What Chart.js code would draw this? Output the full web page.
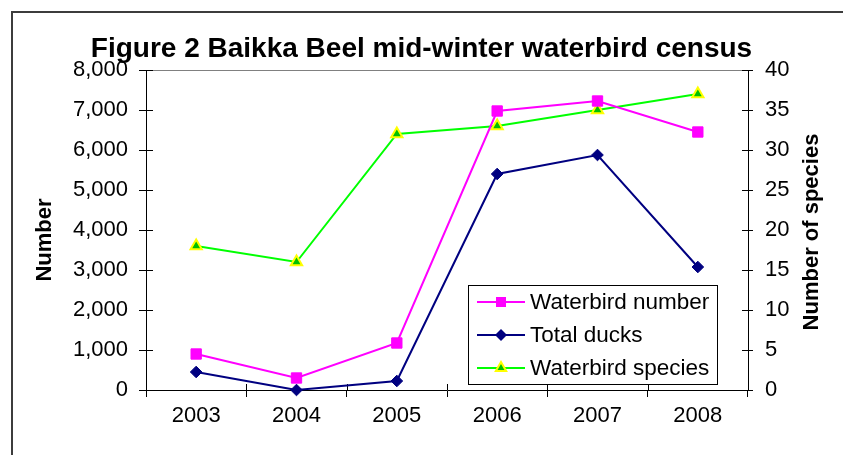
<!DOCTYPE html>
<html><head><meta charset="utf-8">
<script src="https://cdn.jsdelivr.net/npm/chart.js@4/dist/chart.umd.min.js"></script>
<style>html,body{margin:0;padding:0;background:#fff;} canvas{display:block;}</style>
</head><body>
<canvas id="c" width="843" height="455"></canvas>
<script>
const titleText = 'Figure 2 Baikka Beel mid-winter waterbird census';
const years = ['2003', '2004', '2005', '2006', '2007', '2008'];
const waterbirdNumber = [900, 300, 1175, 6975, 7225, 6450];
const totalDucks = [450, 0, 225, 5400, 5875, 3075];
const waterbirdSpecies = [18, 16, 32, 33, 35, 37];
const seriesNames = ['Waterbird number', 'Total ducks', 'Waterbird species'];
const leftAxisTitle = 'Number';
const rightAxisTitle = 'Number of species';

const FONT = "'Liberation Sans', Arial, Helvetica, sans-serif";
const C_MAG = '#FF00FF', C_NAVY = '#000080', C_GREEN = '#00FF00', C_TRI = '#00C000', C_YEL = '#FFFF00';

function withCommas(v) { return String(v).replace(/\B(?=(\d{3})+(?!\d))/g, ','); }

function drawMarker(ctx, style, x, y) {
  ctx.save();
  ctx.beginPath();
  if (style === 'rect') {
    ctx.fillStyle = C_MAG;
    ctx.fillRect(x - 5, y - 5, 10, 10);
  } else if (style === 'rectRot') {
    ctx.fillStyle = C_NAVY;
    ctx.moveTo(x, y - 6); ctx.lineTo(x + 6, y); ctx.lineTo(x, y + 6); ctx.lineTo(x - 6, y); ctx.closePath();
    ctx.fill();
  } else {
    const r = 6;
    ctx.moveTo(x, y - r);
    ctx.lineTo(x + r * Math.sin(2 * Math.PI / 3), y - r * Math.cos(2 * Math.PI / 3));
    ctx.lineTo(x + r * Math.sin(4 * Math.PI / 3), y - r * Math.cos(4 * Math.PI / 3));
    ctx.closePath();
    ctx.fillStyle = C_TRI; ctx.fill();
    ctx.strokeStyle = C_YEL; ctx.lineWidth = 2; ctx.stroke();
  }
  ctx.restore();
}

const decor = {
  id: 'decor',
  beforeDraw(chart) {
    const ctx = chart.ctx, a = chart.chartArea;
    ctx.save();
    ctx.fillStyle = '#fff';
    ctx.fillRect(0, 0, chart.width, chart.height);
    ctx.strokeStyle = '#3c3c3c'; ctx.lineWidth = 2;
    ctx.strokeRect(12, 12, chart.width + 20, chart.height + 20);
    ctx.strokeStyle = '#808080'; ctx.lineWidth = 1;
    ctx.beginPath();
    ctx.moveTo(a.left, Math.round(a.top) + 0.5); ctx.lineTo(a.right, Math.round(a.top) + 0.5);
    ctx.stroke();
    ctx.restore();
  },
  beforeDatasetsDraw(chart) {
    const ctx = chart.ctx, a = chart.chartArea;
    const sx = chart.scales.x, sy = chart.scales.y, sy1 = chart.scales.y1;
    ctx.save();
    ctx.strokeStyle = '#000'; ctx.lineWidth = 1;
    ctx.beginPath();
    sy.ticks.forEach(t => {
      const y = Math.round(sy.getPixelForValue(t.value)) + 0.5;
      ctx.moveTo(a.left, y); ctx.lineTo(a.left + 7, y);
    });
    sy1.ticks.forEach(t => {
      const y = Math.round(sy1.getPixelForValue(t.value)) + 0.5;
      ctx.moveTo(a.right - 6, y); ctx.lineTo(a.right, y);
    });
    for (let i = 0; i <= years.length; i++) {
      const x = Math.round(sx.getPixelForValue(i - 0.5)) + 0.5;
      ctx.moveTo(x, a.bottom - 6); ctx.lineTo(x, a.bottom);
    }
    ctx.stroke();
    ctx.restore();
  },
  afterDraw(chart) {
    const ctx = chart.ctx, a = chart.chartArea;
    ctx.save();
    // axis titles
    ctx.fillStyle = '#000';
    ctx.font = 'bold 22px ' + FONT;
    ctx.textAlign = 'center'; ctx.textBaseline = 'middle';
    ctx.save(); ctx.translate(45, 240); ctx.rotate(-Math.PI / 2); ctx.fillText(leftAxisTitle, 0, 0); ctx.restore();
    ctx.save(); ctx.translate(812, 232); ctx.rotate(-Math.PI / 2); ctx.fillText(rightAxisTitle, 0, 0); ctx.restore();
    // legend
    const lx = 468, ly = 285, lw = 249, lh = 99;
    ctx.fillStyle = '#fff';
    ctx.fillRect(lx, ly, lw, lh);
    ctx.strokeStyle = '#000'; ctx.lineWidth = 1;
    ctx.strokeRect(lx + 0.5, ly + 0.5, lw, lh);
    const styles = ['rect', 'rectRot', 'triangle'];
    const cols = [C_MAG, C_NAVY, C_GREEN];
    ctx.font = '22.5px ' + FONT;
    ctx.textAlign = 'left'; ctx.textBaseline = 'middle';
    chart.data.datasets.forEach((ds, i) => {
      const y = ly + 17 + i * 33;
      ctx.strokeStyle = cols[i]; ctx.lineWidth = 2;
      ctx.beginPath(); ctx.moveTo(lx + 9, y); ctx.lineTo(lx + 57, y); ctx.stroke();
      drawMarker(ctx, styles[i], lx + 33, y);
      ctx.fillStyle = '#000';
      ctx.fillText(ds.label, lx + 62, y + 1);
    });
    ctx.restore();
  }
};

const tickFont = { family: FONT, size: 22 };

new Chart(document.getElementById('c'), {
  type: 'line',
  data: {
    labels: years,
    datasets: [
      {
        label: seriesNames[0], data: waterbirdNumber, yAxisID: 'y',
        borderColor: C_MAG, backgroundColor: C_MAG, borderWidth: 2,
        pointStyle: 'rect', pointRadius: 7.3, pointBorderWidth: 1,
        pointBackgroundColor: C_MAG, pointBorderColor: C_MAG, tension: 0, clip: false
      },
      {
        label: seriesNames[1], data: totalDucks, yAxisID: 'y',
        borderColor: C_NAVY, backgroundColor: C_NAVY, borderWidth: 2,
        pointStyle: 'rectRot', pointRadius: 5.8, pointBorderWidth: 1,
        pointBackgroundColor: C_NAVY, pointBorderColor: C_NAVY, tension: 0, clip: false
      },
      {
        label: seriesNames[2], data: waterbirdSpecies, yAxisID: 'y1',
        borderColor: C_GREEN, backgroundColor: C_TRI, borderWidth: 2,
        pointStyle: 'triangle', pointRadius: 6.5, pointBorderWidth: 2,
        pointBackgroundColor: C_TRI, pointBorderColor: C_YEL, tension: 0, clip: false
      }
    ]
  },
  options: {
    responsive: false,
    animation: false,
    events: [],
    layout: { padding: 0 },
    plugins: {
      legend: { display: false },
      tooltip: { enabled: false },
      title: {
        display: true, text: titleText, color: '#000',
        font: { family: FONT, size: 28, weight: 'bold', lineHeight: 1.2 },
        padding: { top: 32, bottom: 4.4 }
      }
    },
    scales: {
      x: {
        offset: true,
        grid: { offset: true, drawOnChartArea: false, drawTicks: true, tickLength: 7, color: '#000', lineWidth: 1 },
        border: { display: true, color: '#000', width: 1 },
        ticks: { font: tickFont, color: '#000', padding: 6, maxRotation: 0, autoSkip: false },
        afterFit(s) { s.height = 65; }
      },
      y: {
        position: 'left', min: 0, max: 8000,
        grid: { drawOnChartArea: false, tickLength: 7, color: '#000', lineWidth: 1 },
        border: { display: true, color: '#000', width: 1 },
        ticks: { stepSize: 1000, font: tickFont, color: '#000', padding: 11, callback: v => withCommas(v) },
        afterFit(s) { s.width = 146; }
      },
      y1: {
        position: 'right', min: 0, max: 40,
        grid: { drawOnChartArea: false, tickLength: 5, color: '#000', lineWidth: 1 },
        border: { display: true, color: '#000', width: 1 },
        ticks: { stepSize: 5, font: tickFont, color: '#000', padding: 12 },
        afterFit(s) { s.width = 95; }
      }
    }
  },
  plugins: [decor]
});
</script>
</body></html>
